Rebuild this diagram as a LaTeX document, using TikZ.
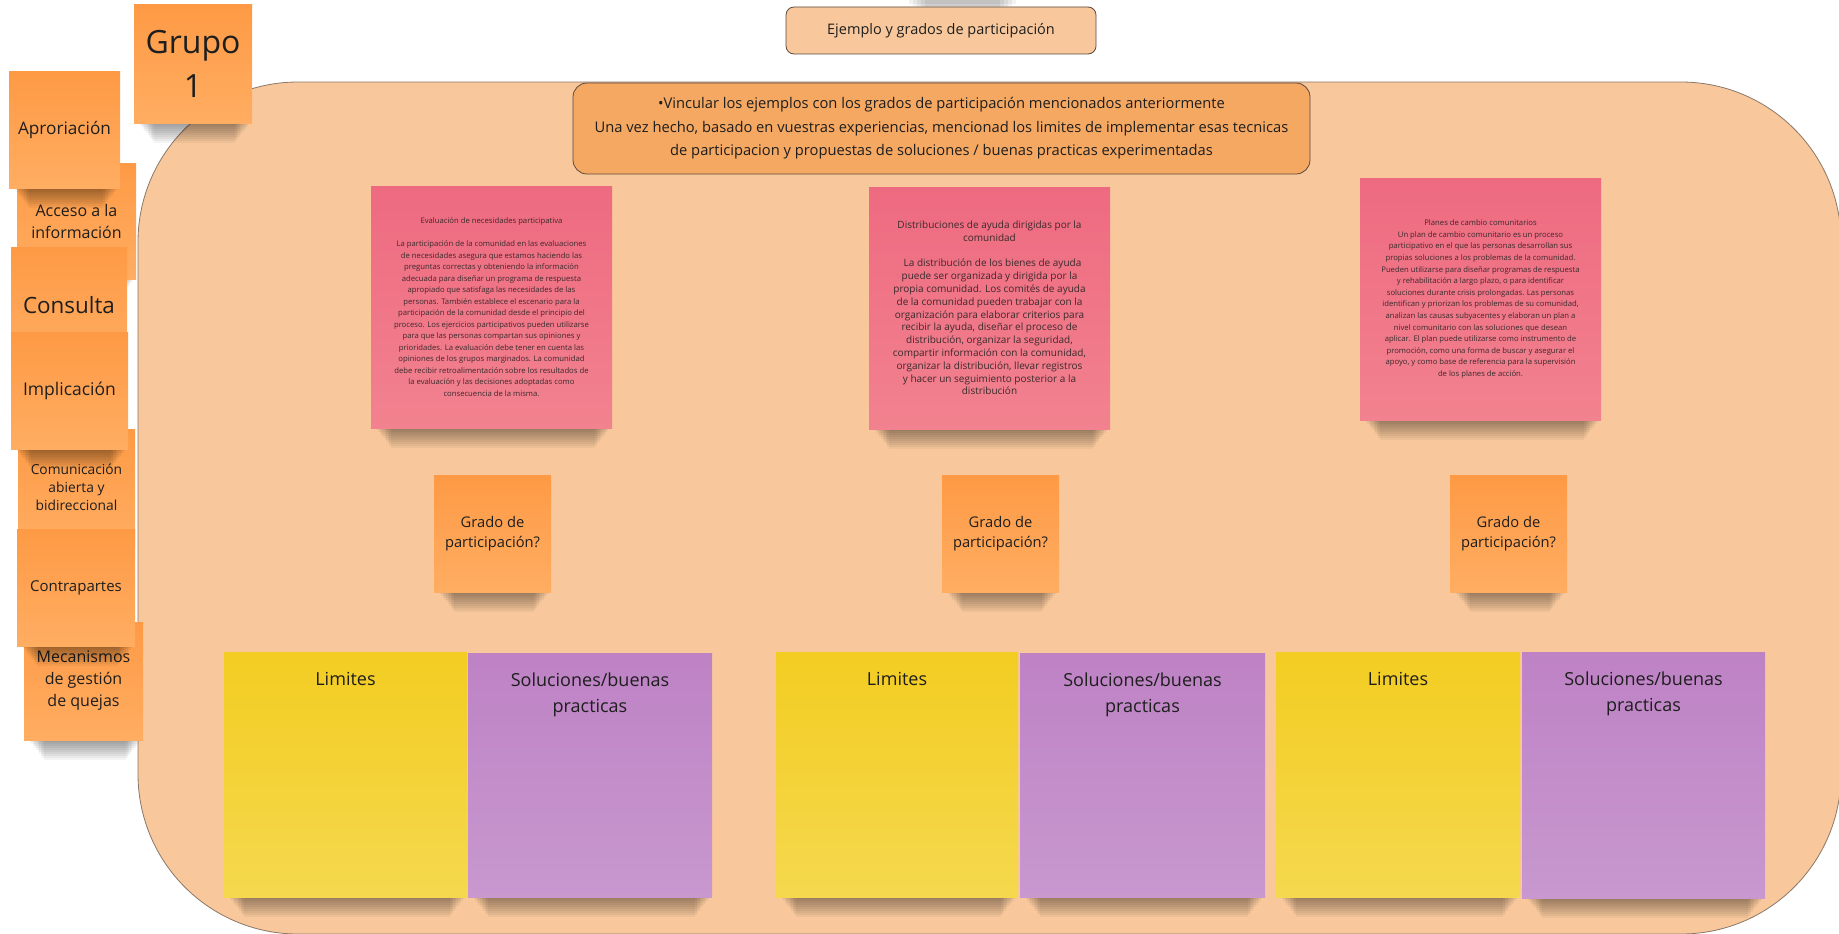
\documentclass[tikz,border=0pt]{standalone}
\usepackage{fontspec}
\setmainfont{Open Sans}
\usepackage{xcolor}

\definecolor{panelfill}{HTML}{F8C89C}
\definecolor{panelline}{HTML}{8A7868}
\definecolor{instrfill}{HTML}{F5A862}
\definecolor{boxline}{HTML}{5A4A40}
\definecolor{orangetop}{HTML}{FE9A45}
\definecolor{orangebot}{HTML}{FFAD62}
\definecolor{pinktop}{HTML}{EE6A80}
\definecolor{pinkbot}{HTML}{F2828F}
\definecolor{yellowtop}{HTML}{F3CD22}
\definecolor{yellowbot}{HTML}{F5D84E}
\definecolor{purpletop}{HTML}{BE82C5}
\definecolor{purplebot}{HTML}{C898CF}
\definecolor{inkc}{HTML}{1E1E1E}
\definecolor{pinkink}{HTML}{3A2A2C}

% sticky note: shadow first, then the note itself
\newcommand{\stickynote}[7]{%
  \foreach \k in {1,...,10}
    \fill[black, opacity=.045] ({#3+4+1.6*\k},{#6-2}) rectangle ({#5-1-1.6*\k},{#6+2*\k});
  \node[#2, minimum width={(#5-#3)*1pt}, minimum height={(#6-#4)*1pt}] (#1) at ({(#3+#5)/2},{(#4+#6)/2}) {#7};
}

\begin{document}
\begin{tikzpicture}[x=1pt, y=-1pt,
    postit/.style={inner sep=0pt, align=center, text=inkc},
    orangenote/.style={postit, top color=orangetop, bottom color=orangebot},
    pinknote/.style={postit, top color=pinktop, bottom color=pinkbot, text=pinkink},
    yellownote/.style={postit, top color=yellowtop, bottom color=yellowbot},
    purplenote/.style={postit, top color=purpletop, bottom color=purplebot},
    headbox/.style={draw=boxline, line width=.8pt, inner sep=0pt, align=center, text=inkc},
    toptext/.style={label={[anchor=north, yshift=-20pt, inner sep=0pt, font=\fontsize{18}{26}\selectfont, align=center, text=inkc]north:#1}}
  ]
  \fill[white] (0,0) rectangle (1839,934);
  \useasboundingbox (0,0) rectangle (1839,934);

  % big panel
  \draw[panelline, fill=panelfill, line width=.8pt, rounded corners=160pt] (138,82) rectangle (1841,934);

  % title
  \foreach \k in {1,...,5}
    \fill[black, opacity=.05] ({905+4*\k},0) rectangle ({1020-4*\k},{2+2*\k});
  \node[headbox, fill=panelfill, rounded corners=8pt, minimum width=310pt, minimum height=47pt,
    font=\fontsize{14.5}{18}\selectfont] (titulo) at (941,30.5) {Ejemplo y grados de participación};

  % instructions
  \node[headbox, fill=instrfill, rounded corners=14pt, minimum width=737pt, minimum height=91pt,
    font=\fontsize{14.7}{23.5}\selectfont] (consigna) at (941.5,128.5)
    {•Vincular los ejemplos con los grados de participación mencionados anteriormente\\
     Una vez hecho, basado en vuestras experiencias, mencionad los limites de implementar esas tecnicas\\
     de participacion y propuestas de soluciones / buenas practicas experimentadas};

  % left column of grades
  \stickynote{mecan}{orangenote, font=\fontsize{16}{22}\selectfont}{24}{622}{143}{740}{Mecanismos\\de gestión\\de quejas}
  \stickynote{comun}{orangenote, font=\fontsize{13.8}{18}\selectfont}{18}{429}{135}{546}{Comunicación\\abierta y\\bidireccional}
  \stickynote{contra}{orangenote, font=\fontsize{15}{20}\selectfont}{17}{529}{135}{646}{Contrapartes}
  \stickynote{acceso}{orangenote, font=\fontsize{16}{22}\selectfont}{17}{163}{136}{279}{Acceso a la\\información}
  \stickynote{consul}{orangenote, font=\fontsize{22.4}{28}\selectfont}{11}{247}{127}{364}{Consulta}
  \stickynote{implic}{orangenote, font=\fontsize{17.5}{22}\selectfont}{11}{332}{128}{449}{Implicación}
  \stickynote{apropia}{orangenote, font=\fontsize{17.2}{22}\selectfont}{9}{72}{120}{188}{Aproriación}
  \stickynote{grupo}{orangenote, font=\fontsize{32}{44}\selectfont}{134}{5}{252}{123}{Grupo\\1}

  % examples
  \stickynote{ej1}{pinknote, font=\fontsize{7.7}{11.5}\selectfont}{371}{186}{612}{428}
    {Evaluación de necesidades participativa\\[11.5pt]
     La participación de la comunidad en las evaluaciones\\
     de necesidades asegura que estamos haciendo las\\
     preguntas correctas y obteniendo la información\\
     adecuada para diseñar un programa de respuesta\\
     apropiado que satisfaga las necesidades de las\\
     personas. También establece el escenario para la\\
     participación de la comunidad desde el principio del\\
     proceso. Los ejercicios participativos pueden utilizarse\\
     para que las personas compartan sus opiniones y\\
     prioridades. La evaluación debe tener en cuenta las\\
     opiniones de los grupos marginados. La comunidad\\
     debe recibir retroalimentación sobre los resultados de\\
     la evaluación y las decisiones adoptadas como\\
     consecuencia de la misma.}
  \stickynote{ej2}{pinknote, font=\fontsize{10}{12.8}\selectfont}{869}{187}{1110}{429}
    {Distribuciones de ayuda dirigidas por la\\
     comunidad\\[12.8pt]
     \hspace{.6em}La distribución de los bienes de ayuda\\
     puede ser organizada y dirigida por la\\
     propia comunidad. Los comités de ayuda\\
     de la comunidad pueden trabajar con la\\
     organización para elaborar criterios para\\
     recibir la ayuda, diseñar el proceso de\\
     distribución, organizar la seguridad,\\
     compartir información con la comunidad,\\
     organizar la distribución, llevar registros\\
     y hacer un seguimiento posterior a la\\
     distribución}
  \stickynote{ej3}{pinknote, font=\fontsize{7.7}{11.6}\selectfont}{1360}{178}{1601}{420}
    {Planes de cambio comunitarios\\
     Un plan de cambio comunitario es un proceso\\
     participativo en el que las personas desarrollan sus\\
     propias soluciones a los problemas de la comunidad.\\
     Pueden utilizarse para diseñar programas de respuesta\\
     y rehabilitación a largo plazo, o para identificar\\
     soluciones durante crisis prolongadas. Las personas\\
     identifican y priorizan los problemas de su comunidad,\\
     analizan las causas subyacentes y elaboran un plan a\\
     nivel comunitario con las soluciones que desean\\
     aplicar. El plan puede utilizarse como instrumento de\\
     promoción, como una forma de buscar y asegurar el\\
     apoyo, y como base de referencia para la supervisión\\
     de los planes de acción.}

  % grade questions
  \foreach \gx [count=\i] in {434,942,1450}
    \stickynote{grado\i}{orangenote, font=\fontsize{14.7}{20}\selectfont}{\gx}{475}{\gx+117}{592}{Grado de\\participación?};

  % limits and solutions
  \stickynote{lim1}{yellownote, toptext=Limites}{224}{652}{467}{897}{}
  \stickynote{sol1}{purplenote, toptext={Soluciones/buenas\\practicas}}{468}{653}{712}{897}{}
  \stickynote{lim2}{yellownote, toptext=Limites}{776}{652}{1018}{897}{}
  \stickynote{sol2}{purplenote, toptext={Soluciones/buenas\\practicas}}{1020}{653}{1265}{897}{}
  \stickynote{lim3}{yellownote, toptext=Limites}{1276}{652}{1520}{897}{}
  \stickynote{sol3}{purplenote, toptext={Soluciones/buenas\\practicas}}{1522}{652}{1765}{898}{}
\end{tikzpicture}
\end{document}
